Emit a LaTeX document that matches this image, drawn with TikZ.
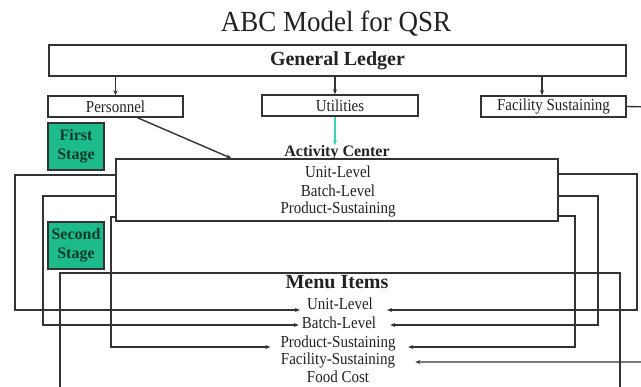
\documentclass[tikz,border=0pt]{standalone}
\usepackage{fontspec}
\setmainfont{Liberation Serif}
\usetikzlibrary{arrows.meta,calc}
\definecolor{ink}{HTML}{333333}
\definecolor{txt}{HTML}{222222}
\definecolor{stagegreen}{HTML}{1DBB8C}
\definecolor{stagetxt}{HTML}{0E3A2C}
\definecolor{feed}{HTML}{3CD2B4}
% slightly taller lettering for the small labels
\newcommand\tallish[1]{\scalebox{1}[1.12]{#1}}
\tikzset{
  frame/.style={draw=ink, line width=1.5pt, fill=white, inner sep=0pt, text=txt},
  stagebox/.style={draw=ink, line width=1.3pt, fill=stagegreen, inner sep=0pt,
    minimum width=56pt, minimum height=47pt, align=center,
    font=\fontsize{16}{20}\selectfont\bfseries, text=stagetxt},
  lbl/.style={inner sep=0pt, text=txt, font=\fontsize{15}{18}\selectfont},
  head/.style={inner sep=0pt, text=txt, font=\fontsize{16}{19}\selectfont\bfseries},
  wire/.style={draw=ink, line width=1.4pt},
  arr/.style={wire, -{Stealth[length=5pt,width=4pt]}},
}
\begin{document}
\begin{tikzpicture}[x=1pt,y=-1pt]
\useasboundingbox (0,0) rectangle (641,387);
\clip (0,0) rectangle (641,387);
\fill[white] (0,0) rectangle (641,387);

% title
\node[anchor=base, inner sep=0pt, text=txt, font=\fontsize{27}{30}\selectfont] (title) at (336,32) {\scalebox{1}[1.08]{ABC Model for QSR}};

% ledger and resource pools
\node[frame, minimum width=577pt, minimum height=31pt, font=\fontsize{20}{22}\selectfont\bfseries] (gl) at (337.5,60.5) {General Ledger};
\node[frame, minimum width=135pt, minimum height=21pt, font=\fontsize{15}{18}\selectfont] (pers) at (115.5,106.5) {\tallish{Personnel}};
\node[frame, minimum width=156pt, minimum height=21pt, font=\fontsize{15}{18}\selectfont] (util) at (340,105.5) {\tallish{Utilities}};
\node[frame, minimum width=145pt, minimum height=21pt, font=\fontsize{15}{18}\selectfont] (fac) at (553.5,106.5) {\tallish{Facility Sustaining}};

\draw[arr] (gl.south -| pers) -- (pers.north);
\draw[arr] ([xshift=-5pt]gl.south -| util) -- ([xshift=-5pt]util.north);
\draw[arr] ([xshift=-11.5pt]gl.south -| fac) -- ([xshift=-11.5pt]fac.north);

% stage labels
\node[stagebox] (first) at (76,146.5) {First\\[-1pt]Stage};
\node[stagebox] (second) at (76,245.5) {Second\\[-1pt]Stage};

% menu items frame (open at the bottom)
\node[frame, fill=none, minimum width=560pt, minimum height=140pt] (menu) at (340,343) {};

% menu item labels
\node[anchor=base, inner sep=0pt, text=txt, font=\fontsize{20}{22}\selectfont\bfseries] (mtitle) at (337,289) {Menu Items};
\node[lbl, anchor=base] (mu1) at (340,309.5) {\tallish{Unit-Level}};
\node[lbl, anchor=base] (mu2) at (339,329) {\tallish{Batch-Level}};
\node[lbl, anchor=base] (mu3) at (338,347.5) {\tallish{Product-Sustaining}};
\node[lbl, anchor=base] (mu4) at (338,365) {\tallish{Facility-Sustaining}};
\node[lbl, anchor=base] (mu5) at (338,382.5) {\tallish{Food Cost}};

% corner points of the cost-driver loops
\coordinate (l1) at (15,175);
\coordinate (l2) at (43,196);
\coordinate (l3) at (111,217);
\coordinate (r1) at (637,174);
\coordinate (r2) at (598,196);
\coordinate (r3) at (575,216);
\coordinate (r4) at (650,107);

% activity center
\node[frame, minimum width=442pt, minimum height=62pt] (ac) at (337,190) {};

% loops from the activity center to the menu items
\draw[arr] (ac.west |- l1) -- (l1) |- ([xshift=-7pt,yshift=-0.5pt]mu1.base west);
\draw[arr] (ac.west |- l2) -- (l2) |- ([xshift=-3pt,yshift=4pt]mu2.base west);
\draw[arr] (ac.west |- l3) -- (l3) |- ([xshift=-10pt,yshift=0.5pt]mu3.base west);
\draw[arr] (ac.east |- r1) -- (r1) |- ([xshift=14pt,yshift=-0.5pt]mu1.base east);
\draw[arr] (ac.east |- r2) -- (r2) |- ([xshift=14pt,yshift=4pt]mu2.base east);
\draw[arr] (ac.east |- r3) -- (r3) |- ([xshift=12.5pt,yshift=0.5pt]mu3.base east);
\draw[arr] (fac.east) -- (r4) |- ([xshift=20pt,yshift=3pt]mu4.base east);

% activity center labels
\node[head] (actitle) at (337,153) {Activity Center};
\node[lbl] (ac1) at (338,172) {\tallish{Unit-Level}};
\node[lbl] (ac2) at (338,191) {\tallish{Batch-Level}};
\node[lbl] (ac3) at (338,209) {\tallish{Product-Sustaining}};

% resource flows into the activity center
\draw[arr] ([xshift=22pt]pers.south) -- ([xshift=116pt]ac.north west);
\draw[draw=feed, line width=1.3pt, -{Stealth[length=5pt,width=4pt]}] ([xshift=-5pt]util.south) -- ([xshift=-2pt,yshift=13pt]ac.north);
\end{tikzpicture}
\end{document}
